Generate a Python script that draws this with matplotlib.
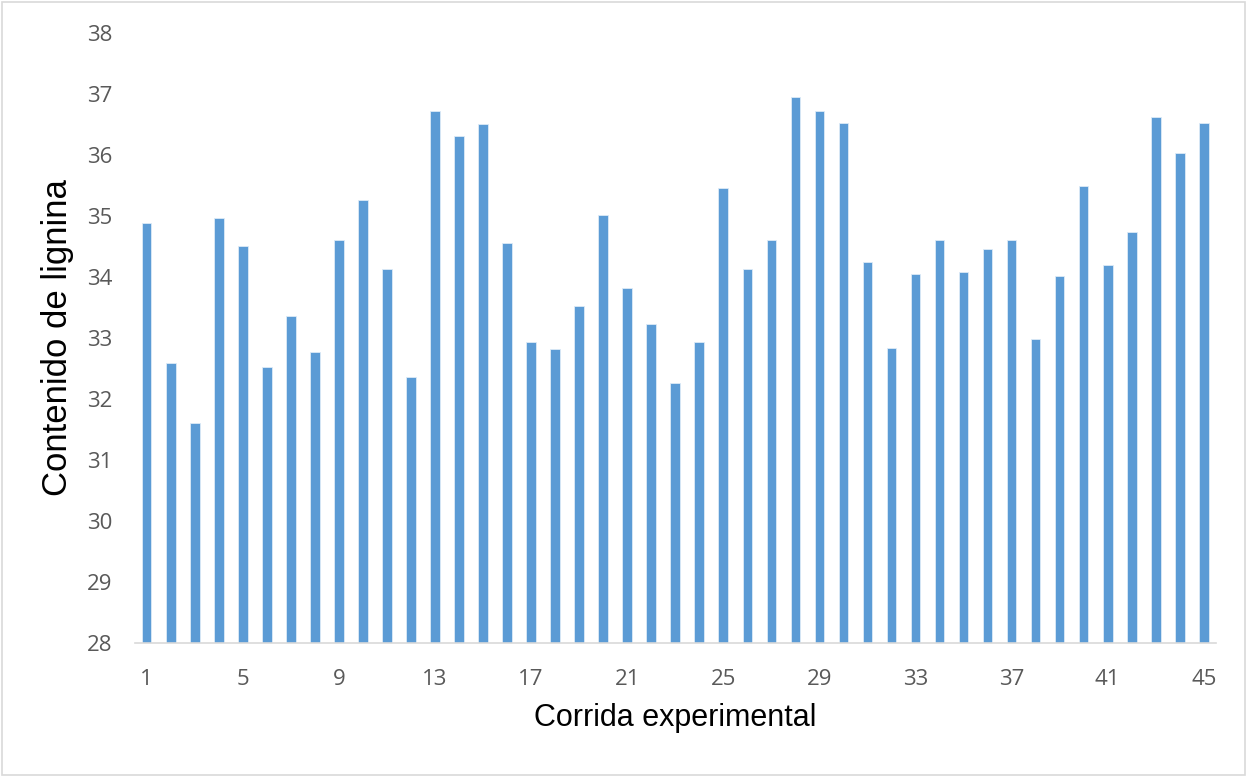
import matplotlib.pyplot as plt
from matplotlib.patches import Rectangle

# contenido de lignina por corrida experimental
corridas = list(range(1, 46))
lignina = [34.88, 32.59, 31.60, 34.96, 34.51, 32.52, 33.36, 32.77, 34.60, 35.26,
           34.13, 32.35, 36.71, 36.31, 36.50, 34.56, 32.93, 32.82, 33.52, 35.02,
           33.82, 33.22, 32.26, 32.93, 35.45, 34.13, 34.60, 36.95, 36.71, 36.52,
           34.25, 32.84, 34.04, 34.60, 34.07, 34.46, 34.60, 32.98, 34.02, 35.49,
           34.20, 34.74, 36.61, 36.03, 36.52]
xticks = list(range(1, 46, 4))
yticks = list(range(28, 39))

fig = plt.figure(figsize=(12.47, 7.77), dpi=100)
ax = fig.add_axes([0.108, 0.1725, 0.867, 0.7855])

ax.bar(corridas, [v - 28 for v in lignina], bottom=28, width=0.4,
       color='#5B9BD5', edgecolor='#DDEBF7', linewidth=0.6)

ax.set_xlim(0.5, 45.5)
ax.set_ylim(28, 38)
ax.set_xticks(xticks)
ax.set_yticks(yticks)
ax.tick_params(axis='both', length=0, labelsize=16, labelcolor='#595959')
ax.tick_params(axis='x', pad=19)
ax.tick_params(axis='y', pad=16)
for lab in ax.get_xticklabels() + ax.get_yticklabels():
    lab.set_fontfamily('Open Sans')

for s in ['top', 'right', 'left']:
    ax.spines[s].set_visible(False)
ax.spines['bottom'].set_color('#D9D9D9')
ax.spines['bottom'].set_linewidth(1.2)

ax.set_xlabel('Corrida experimental', fontsize=22, family='Liberation Sans',
              color='black', labelpad=9)
ax.set_ylabel('Contenido de lignina', fontsize=25, family='Liberation Sans',
              color='black', labelpad=9)

# marco del grafico
fig.patches.append(Rectangle((0.002, 0.002), 0.996, 0.996, transform=fig.transFigure,
                             fill=False, edgecolor='#D9D9D9', linewidth=1.2))

fig.savefig('out.png', dpi=100)
